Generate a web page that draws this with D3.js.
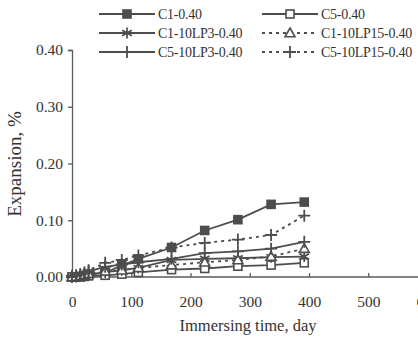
<!DOCTYPE html>
<html>
<head>
<meta charset="utf-8">
<script src="https://cdn.jsdelivr.net/npm/d3@7"></script>
<style>
  html, body { margin: 0; padding: 0; background: #ffffff; }
  svg { display: block; }
  text { font-family: "Liberation Serif", "Times New Roman", serif; fill: #333333; }
</style>
</head>
<body>
<svg id="chart" width="418" height="343"></svg>
<script>
// Immersion time (days) at which each reading was taken
const days = [0, 7, 14, 21, 28, 56, 84, 112, 168, 224, 280, 336, 392];

// Expansion (%) for each mix
const c1 = [0, 0, 0.001, 0.002, 0.004, 0.008, 0.02, 0.032, 0.052, 0.082, 0.101, 0.128, 0.132];
const c5 = [0, 0, 0, 0.001, 0.002, 0.003, 0.005, 0.008, 0.013, 0.015, 0.019, 0.021, 0.025];
const c1lp3 = [0, 0, 0.001, 0.002, 0.004, 0.008, 0.012, 0.016, 0.03, 0.032, 0.033, 0.035, 0.036];
const c1lp15 = [0, 0.001, 0.002, 0.004, 0.006, 0.01, 0.012, 0.016, 0.021, 0.026, 0.03, 0.036, 0.05];
const c5lp3 = [0, 0.002, 0.004, 0.006, 0.01, 0.018, 0.022, 0.026, 0.032, 0.042, 0.045, 0.05, 0.062];
const c5lp15 = [0.002, 0.003, 0.005, 0.008, 0.012, 0.025, 0.03, 0.038, 0.052, 0.06, 0.066, 0.074, 0.108];

const seriesNames = ["C1-0.40", "C5-0.40", "C1-10LP3-0.40", "C1-10LP15-0.40", "C5-10LP3-0.40", "C5-10LP15-0.40"];
const seriesValues = [c1, c5, c1lp3, c1lp15, c5lp3, c5lp15];
const seriesMarkers = ["squareFilled", "squareOpen", "asterisk", "triangle", "plus", "plus"];
const seriesDashed = [false, false, false, true, false, true];

const xTicks = [0, 100, 200, 300, 400, 500, 600];
const yTicks = [0, 0.1, 0.2, 0.3, 0.4];

const ink = "#4d4d4d";
const svg = d3.select("#chart");

const x = d3.scaleLinear().domain([0, 600]).range([72, 427.5]);
const y = d3.scaleLinear().domain([0, 0.4]).range([277, 50]);

// Axes
const yAxis = svg.append("g")
  .attr("transform", `translate(${x(0)},0)`)
  .call(d3.axisLeft(y).tickValues(yTicks).tickFormat(d3.format(".2f")).tickSize(4).tickPadding(5));
const xAxis = svg.append("g")
  .attr("transform", `translate(0,${y(0)})`)
  .call(d3.axisBottom(x).tickValues(xTicks).tickFormat(d3.format("d")).tickSize(-4).tickPadding(19));
xAxis.select(".domain").attr("d", `M${x(0)},0H418`);
[xAxis, yAxis].forEach(g => {
  g.selectAll(".domain, .tick line").attr("stroke", "#5a5a5a").attr("stroke-width", 1.3);
  g.selectAll(".tick text").attr("font-size", 15.5).attr("fill", "#333333")
    .style("font-family", "'Liberation Serif', serif");
});
xAxis.select(".tick line").remove();

// Axis titles
svg.append("text")
  .attr("x", 248).attr("y", 331)
  .attr("text-anchor", "middle").attr("font-size", 16.5)
  .text("Immersing time, day");
svg.append("text")
  .attr("transform", `translate(21,${164}) rotate(-90)`)
  .attr("text-anchor", "middle").attr("font-size", 19)
  .text("Expansion, %");

// Marker shapes
function drawMarker(g, type, cx, cy) {
  const s = 4;
  if (type === "squareFilled" || type === "squareOpen") {
    g.append("rect")
      .attr("x", cx - s).attr("y", cy - s).attr("width", 2 * s).attr("height", 2 * s)
      .attr("fill", type === "squareFilled" ? ink : "#ffffff")
      .attr("stroke", ink).attr("stroke-width", 1.6);
  } else if (type === "triangle") {
    const r = 5;
    g.append("path")
      .attr("d", `M${cx},${cy - r}L${cx + r},${cy + r * 0.75}L${cx - r},${cy + r * 0.75}Z`)
      .attr("fill", "#ffffff").attr("stroke", ink).attr("stroke-width", 1.6);
  } else if (type === "plus") {
    const r = 6;
    g.append("path")
      .attr("d", `M${cx - r},${cy}H${cx + r}M${cx},${cy - r}V${cy + r}`)
      .attr("fill", "none").attr("stroke", ink).attr("stroke-width", 1.8);
  } else if (type === "asterisk") {
    const r = 5.5;
    const dx = r * Math.cos(Math.PI / 6), dy = r * Math.sin(Math.PI / 6);
    g.append("path")
      .attr("d", `M${cx},${cy - r}V${cy + r}M${cx - dx},${cy - dy}L${cx + dx},${cy + dy}M${cx - dx},${cy + dy}L${cx + dx},${cy - dy}`)
      .attr("fill", "none").attr("stroke", ink).attr("stroke-width", 1.7);
  }
}

// Series lines and markers
const line = d3.line().x((d, i) => x(days[i])).y(d => y(d));
seriesValues.forEach((vals, k) => {
  const g = svg.append("g");
  g.append("path")
    .datum(vals)
    .attr("d", line)
    .attr("fill", "none")
    .attr("stroke", ink)
    .attr("stroke-width", 1.8)
    .attr("stroke-dasharray", seriesDashed[k] ? "3,4" : null);
  vals.forEach((v, i) => drawMarker(g, seriesMarkers[k], x(days[i]), y(v)));
});

// Legend: two columns, three rows
const legendCols = [[99, 155], [262, 318]];
const legendRows = [14, 33, 52];
seriesNames.forEach((name, k) => {
  const col = legendCols[k % 2];
  const cy = legendRows[Math.floor(k / 2)];
  const g = svg.append("g");
  g.append("line")
    .attr("x1", col[0]).attr("x2", col[1]).attr("y1", cy).attr("y2", cy)
    .attr("stroke", ink).attr("stroke-width", 1.8)
    .attr("stroke-dasharray", seriesDashed[k] ? "3,4" : null);
  drawMarker(g, seriesMarkers[k], (col[0] + col[1]) / 2, cy);
  g.append("text")
    .attr("x", col[1] + 3).attr("y", cy + 5)
    .attr("font-size", 14)
    .attr("letter-spacing", -0.25)
    .text(name);
});
</script>
</body>
</html>
